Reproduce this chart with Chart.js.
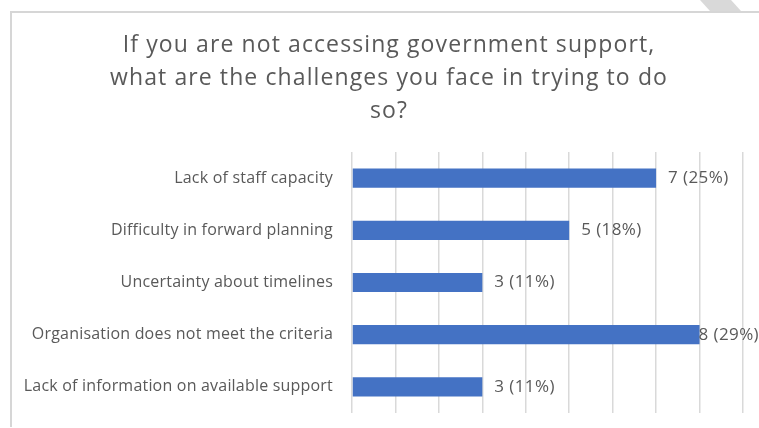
<!DOCTYPE html>
<html>
<head>
<meta charset="utf-8">
<script src="https://cdn.jsdelivr.net/npm/chart.js@4/dist/chart.umd.min.js"></script>
<style>
  html, body { margin: 0; padding: 0; background: #ffffff; }
  #wrap { width: 759px; height: 428px; position: relative; }
</style>
</head>
<body>
<div id="wrap"><canvas id="chart" width="759" height="428"></canvas></div>
<script>
// Survey responses: challenges faced when trying to access government support
const titleLines = [
  'If you are not accessing government support,',
  'what are the challenges you face in trying to do',
  'so?'
];
const categories = [
  'Lack of staff capacity',
  'Difficulty in forward planning',
  'Uncertainty about timelines',
  'Organisation does not meet the criteria',
  'Lack of information on available support'
];
const counts = [7, 5, 3, 8, 3];
const percents = [25, 18, 11, 29, 11];
const xTicks = [0, 1, 2, 3, 4, 5, 6, 7, 8, 9];

const FONT = '"Open Sans", Lato, sans-serif';
const TEXT = '#595959';

// Outer frame, folded page corner and the wrapped title
const framePlugin = {
  id: 'frame',
  beforeDraw(chart) {
    const ctx = chart.ctx;
    ctx.save();
    ctx.fillStyle = '#ffffff';
    ctx.fillRect(0, 0, chart.width, chart.height);
    ctx.fillStyle = '#d9d9d9';
    ctx.beginPath();
    ctx.moveTo(700, 0);
    ctx.lineTo(731, 0);
    ctx.lineTo(741, 11);
    ctx.lineTo(710, 11);
    ctx.closePath();
    ctx.fill();
    ctx.strokeStyle = '#d6d6d6';
    ctx.lineWidth = 2;
    ctx.beginPath();
    ctx.moveTo(11, 427);
    ctx.lineTo(11, 12);
    ctx.lineTo(chart.width, 12);
    ctx.stroke();

    ctx.fillStyle = TEXT;
    ctx.font = '23px ' + FONT;
    ctx.letterSpacing = '1.1px';
    ctx.textAlign = 'center';
    ctx.textBaseline = 'alphabetic';
    titleLines.forEach((line, i) => {
      ctx.fillText(line, 389, 52 + i * 33);
    });
    ctx.restore();
    // slightly open tracking for the category labels drawn next
    ctx.letterSpacing = '0.2px';
  },
  afterDraw(chart) {
    chart.ctx.letterSpacing = '0px';
  }
};

// Value labels "n (p%)" to the right of each bar, kept inside the canvas
const valueLabelPlugin = {
  id: 'valueLabels',
  afterDatasetsDraw(chart) {
    const ctx = chart.ctx;
    const meta = chart.getDatasetMeta(0);
    ctx.save();
    ctx.font = '17px ' + FONT;
    ctx.letterSpacing = '0.4px';
    ctx.fillStyle = TEXT;
    ctx.textAlign = 'left';
    ctx.textBaseline = 'middle';
    meta.data.forEach((bar, i) => {
      const text = counts[i] + ' (' + percents[i] + '%)';
      const w = ctx.measureText(text).width;
      const x = Math.min(bar.x + 12, chart.width - w);
      ctx.fillText(text, x, bar.y);
    });
    ctx.restore();
  }
};

new Chart(document.getElementById('chart'), {
  type: 'bar',
  data: {
    labels: categories,
    datasets: [{
      data: counts,
      backgroundColor: '#4472c4',
      borderWidth: 0,
      barPercentage: 0.46,
      categoryPercentage: 0.8
    }]
  },
  options: {
    indexAxis: 'y',
    responsive: false,
    animation: false,
    layout: { padding: { top: 152, bottom: 15, left: 0, right: 16 } },
    plugins: {
      legend: { display: false },
      title: { display: false },
      tooltip: { enabled: false }
    },
    scales: {
      x: {
        min: 0,
        max: 9,
        afterBuildTicks(scale) { scale.ticks = xTicks.map(v => ({ value: v })); },
        afterFit(scale) { scale.height = 0; },
        ticks: { display: false },
        border: { display: false },
        grid: { color: '#d9d9d9', lineWidth: 1.5, drawTicks: false }
      },
      y: {
        afterFit(scale) {
          scale.width = 352;
          scale.paddingTop = 0;
          scale.paddingBottom = 0;
        },
        border: { display: false },
        grid: { display: false, drawTicks: false },
        ticks: {
          color: TEXT,
          padding: 19,
          font: { family: FONT, size: 16 }
        }
      }
    }
  },
  plugins: [framePlugin, valueLabelPlugin]
});
</script>
</body>
</html>
